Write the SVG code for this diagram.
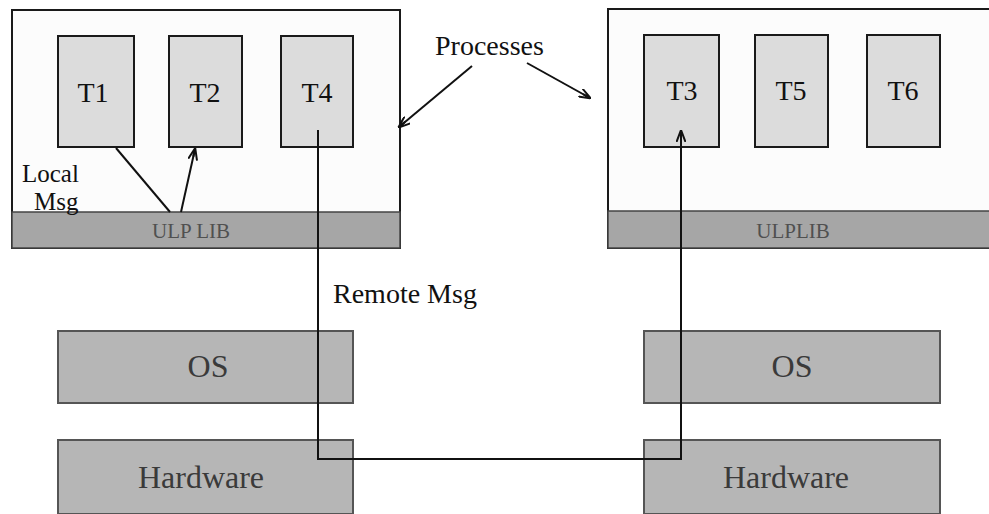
<svg xmlns="http://www.w3.org/2000/svg" width="989" height="514" viewBox="0 0 989 514">
<defs>
<marker id="arr" viewBox="0 0 12 10" refX="11" refY="5" markerWidth="12" markerHeight="10" markerUnits="userSpaceOnUse" orient="auto">
<path d="M0,0.5 L12,5 L0,9.5 M12,5 L3,5" fill="none" stroke="#111" stroke-width="2"/>
</marker>
</defs>
<style>
text{font-family:"Liberation Serif","Times New Roman",serif;}
.outer{fill:#fcfcfc;stroke:#1a1a1a;stroke-width:2;}
.task{fill:#dcdcdc;stroke:#1a1a1a;stroke-width:2;}
.lib{fill:#a6a6a6;stroke:#444;stroke-width:1.5;}
.layer{fill:#b6b6b6;stroke:#555;stroke-width:2;}
.tl{font-size:28px;fill:#111;text-anchor:middle;}
.libt{font-size:21px;fill:#505050;text-anchor:middle;}
.lt{font-size:32px;fill:#3a3a3a;text-anchor:middle;}
.lbl{font-size:28px;fill:#111;}
.sm{font-size:25px;}
.conn{fill:none;stroke:#111;stroke-width:2;}
</style>
<rect width="989" height="514" fill="#ffffff"/>
<g id="host-left">
<rect class="outer" x="12" y="10" width="388" height="238"/>
<g id="ulplib-left"><rect class="lib" x="12" y="212" width="388" height="36"/><text class="libt" x="191" y="238">ULP LIB</text></g>
</g>
<g id="host-right">
<rect class="outer" x="608" y="9" width="390" height="239"/>
<g id="ulplib-right"><rect class="lib" x="608" y="211" width="390" height="37"/><text class="libt" x="793" y="238">ULPLIB</text></g>
</g>
<g id="T1"><rect class="task" x="58" y="36" width="76" height="111"/><text class="tl" x="93" y="102">T1</text></g>
<g id="T2"><rect class="task" x="169" y="36" width="73" height="111"/><text class="tl" x="205" y="102">T2</text></g>
<g id="T4"><rect class="task" x="281" y="36" width="72" height="111"/><text class="tl" x="317" y="102">T4</text></g>
<g id="T3"><rect class="task" x="644" y="35" width="75" height="112"/><text class="tl" x="682" y="100">T3</text></g>
<g id="T5"><rect class="task" x="755" y="35" width="73" height="112"/><text class="tl" x="791" y="100">T5</text></g>
<g id="T6"><rect class="task" x="867" y="35" width="73" height="112"/><text class="tl" x="903" y="100">T6</text></g>
<g id="os-left"><rect class="layer" x="58" y="331" width="295" height="72"/><text class="lt" x="208" y="377">OS</text></g>
<g id="hw-left"><rect class="layer" x="58" y="440" width="295" height="74"/><text class="lt" x="201" y="488">Hardware</text></g>
<g id="os-right"><rect class="layer" x="644" y="331" width="296" height="72"/><text class="lt" x="792" y="377">OS</text></g>
<g id="hw-right"><rect class="layer" x="644" y="440" width="296" height="74"/><text class="lt" x="786" y="488">Hardware</text></g>
<g id="labels">
<text class="lbl sm" x="22" y="182">Local</text>
<text class="lbl sm" x="34" y="210" fill="#333">Msg</text>
<text class="lbl" x="435" y="55">Processes</text>
<text class="lbl" x="333" y="303">Remote Msg</text>
</g>
<g id="connectors">
<line class="conn" x1="116" y1="148" x2="170" y2="212"/>
<line class="conn" x1="181" y1="212" x2="195" y2="149" marker-end="url(#arr)"/>
<polyline class="conn" points="318,130 318,459 681,459 681,131" marker-end="url(#arr)"/>
<line class="conn" x1="472" y1="66" x2="399" y2="127" marker-end="url(#arr)"/>
<line class="conn" x1="527" y1="63" x2="590" y2="98" marker-end="url(#arr)"/>
</g>
</svg>
